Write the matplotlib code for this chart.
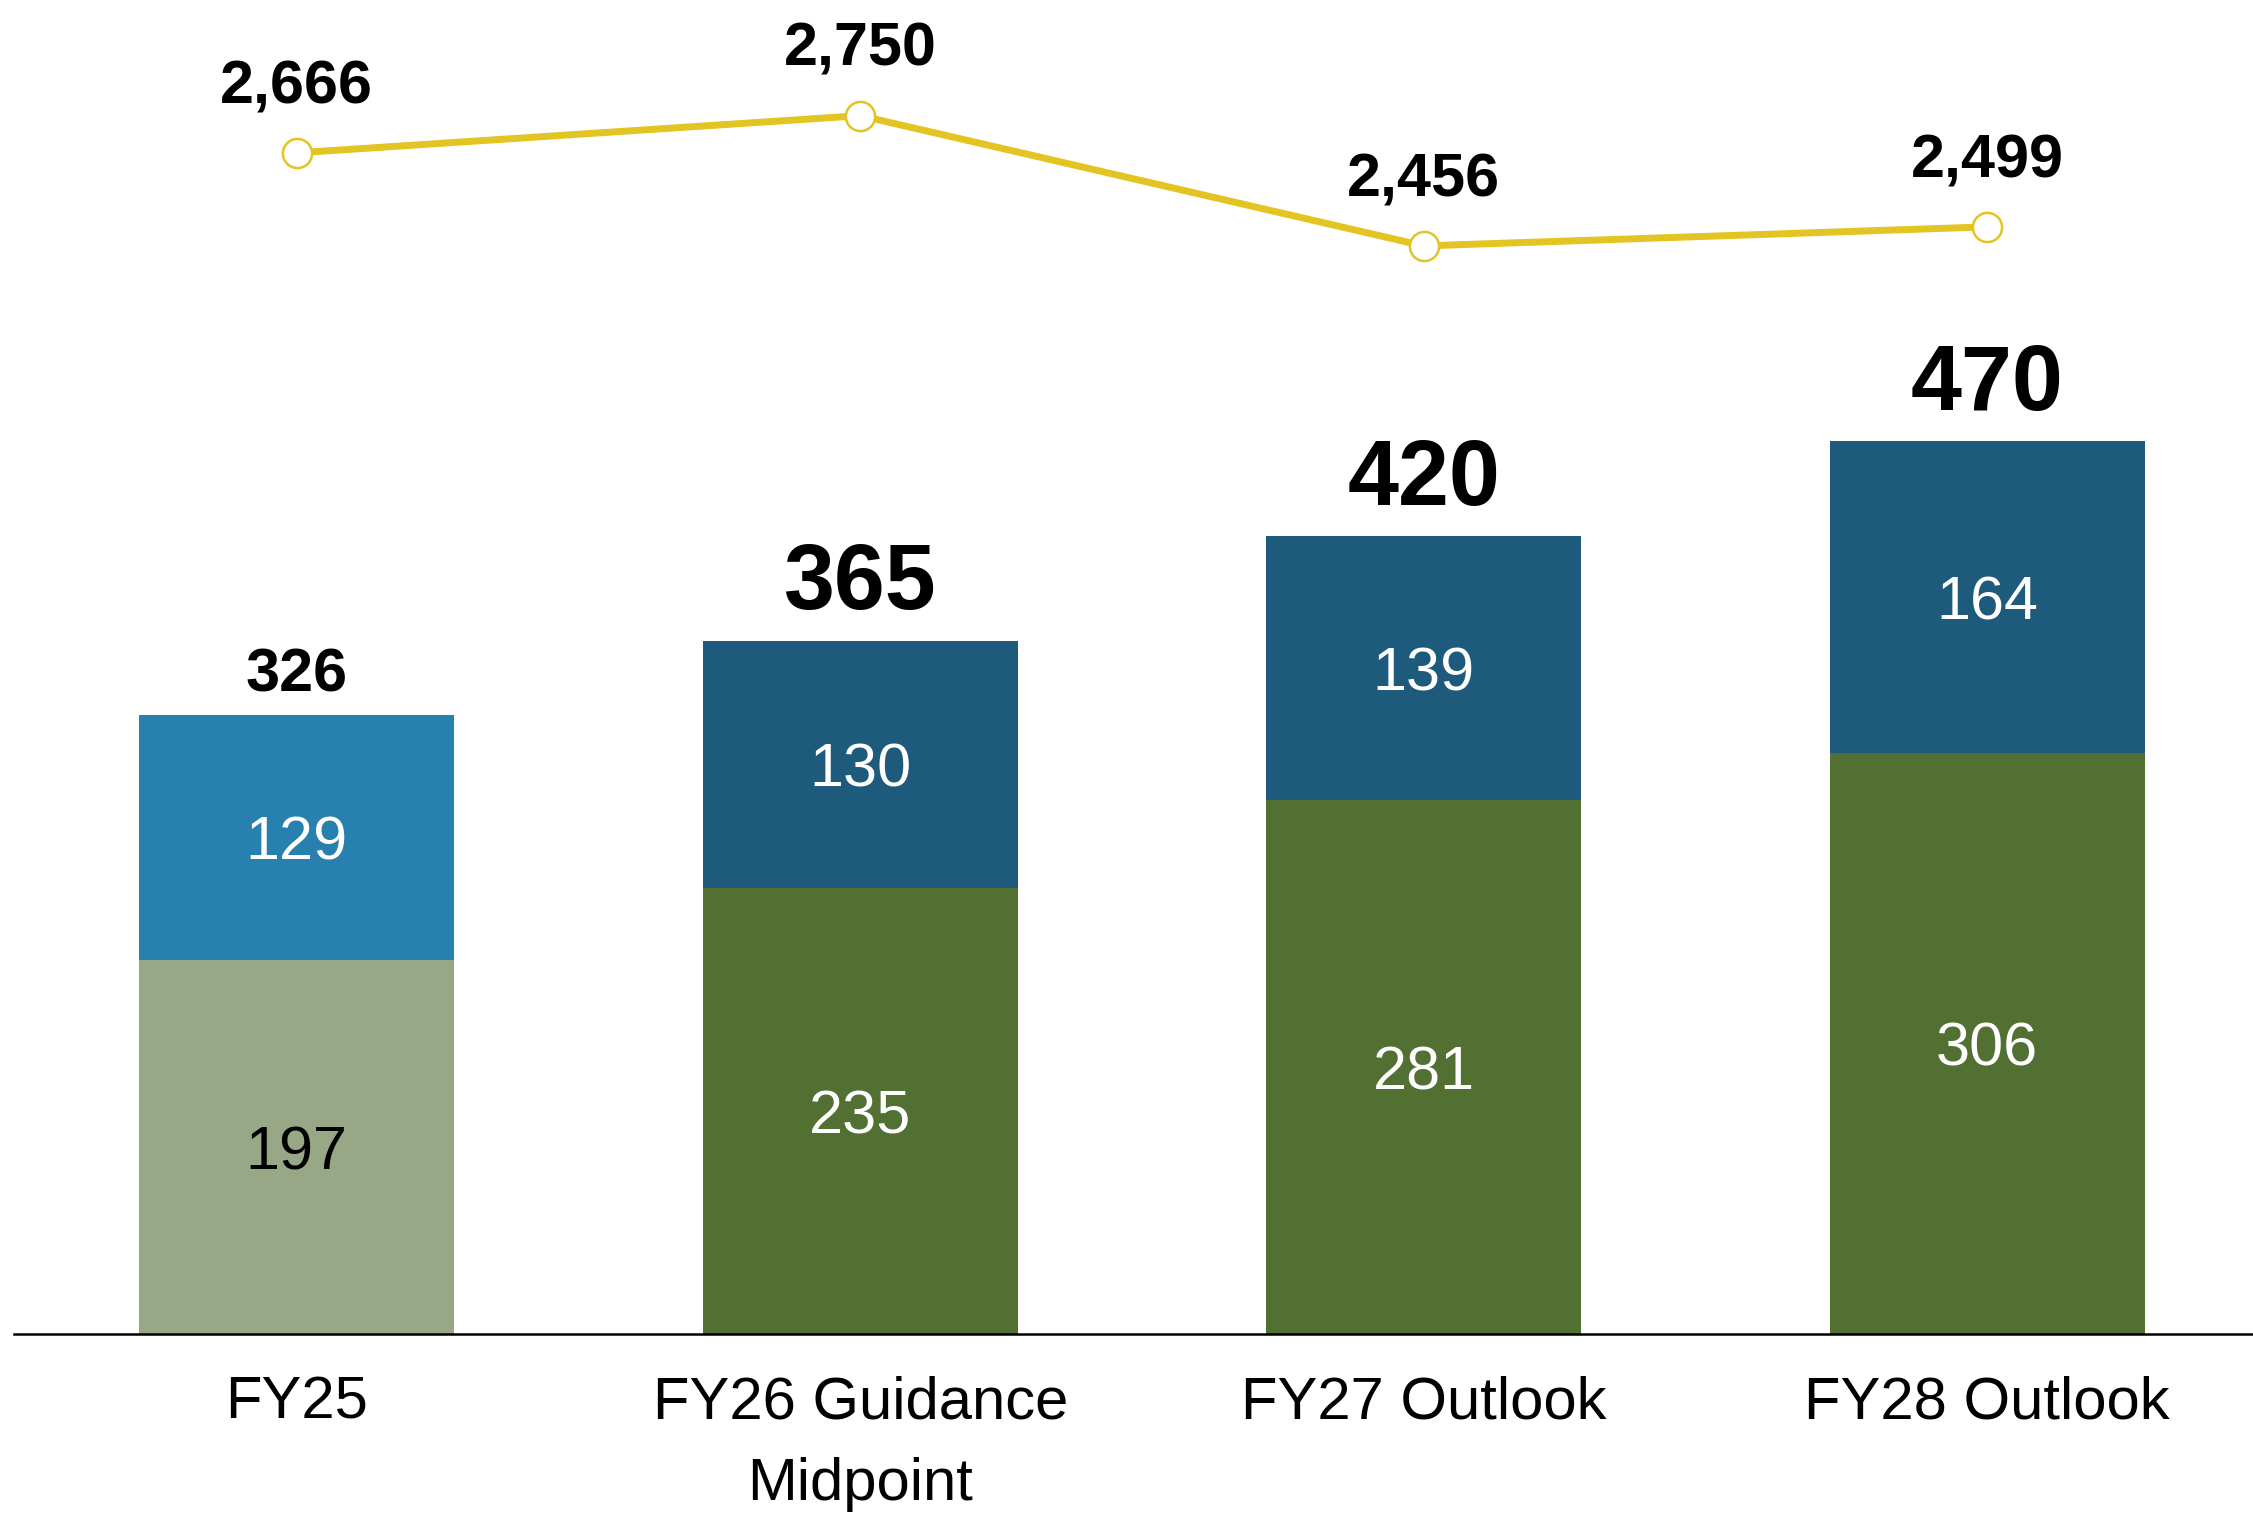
import matplotlib
matplotlib.use("Agg")
import matplotlib.pyplot as plt

categories = ["FY25", "FY26 Guidance\nMidpoint", "FY27 Outlook", "FY28 Outlook"]
bottom_vals = [197, 235, 281, 306]
top_vals = [129, 130, 139, 164]
totals = [326, 365, 420, 470]
line_vals = [2666, 2750, 2456, 2499]

bottom_colors = ["#98A886", "#537033", "#537033", "#537033"]
top_colors = ["#2780AE", "#1E5A7C", "#1E5A7C", "#1E5A7C"]
bottom_text_colors = ["black", "white", "white", "white"]
line_color = "#E2C422"

plt.rcParams['font.family'] = ['Liberation Sans', 'DejaVu Sans']

fig = plt.figure(figsize=(22.53, 15.14), dpi=100)
ax = fig.add_axes([14 / 2253, 180 / 1514, 1 - 14 / 2253, 1334 / 1514])
x = list(range(len(categories)))
w = 0.559

ax.bar(x, bottom_vals, width=w, color=bottom_colors, zorder=2)
ax.bar(x, top_vals, width=w, bottom=bottom_vals, color=top_colors, zorder=2)

for i in x:
    ax.annotate(str(bottom_vals[i]), (i, bottom_vals[i] / 2), xytext=(0, -5),
                textcoords='offset points', ha='center', va='center',
                fontsize=44, color=bottom_text_colors[i])
    ax.annotate(str(top_vals[i]), (i, bottom_vals[i] + top_vals[i] / 2), xytext=(0, -5),
                textcoords='offset points', ha='center', va='center',
                fontsize=44, color='white')
    big = i > 0
    ax.annotate(f"{totals[i]}", (i, totals[i]), xytext=(0, 40 if big else 28),
                textcoords='offset points', ha='center', va='center',
                fontsize=66 if big else 44, fontweight='bold', color='black')

ax.set_xlim(-0.502, 3.472)
ax.set_ylim(0, 702.2)
ax.set_xticks(x)
ax.set_xticklabels(categories, fontsize=43, linespacing=1.62)
ax.tick_params(axis='x', length=0, pad=30)
ax.set_yticks([])
for s in ['top', 'right', 'left']:
    ax.spines[s].set_visible(False)
ax.spines['bottom'].set_linewidth(1.8)
ax.spines['bottom'].set_color('black')

ax2 = ax.twinx()
ax2.set_ylim(0, 3011)
ax2.plot(x, line_vals, color=line_color, lw=5, marker='o', markersize=21,
         markerfacecolor='white', markeredgecolor=line_color, markeredgewidth=1.8, zorder=3)
for i in x:
    ax2.annotate(f"{line_vals[i]:,}", (i, line_vals[i]), xytext=(0, 47),
                 textcoords='offset points', ha='center', va='center',
                 fontsize=44, fontweight='bold', color='black')
ax2.set_yticks([])
for s in ['top', 'right', 'left', 'bottom']:
    ax2.spines[s].set_visible(False)

fig.savefig("out.png", dpi=100)
